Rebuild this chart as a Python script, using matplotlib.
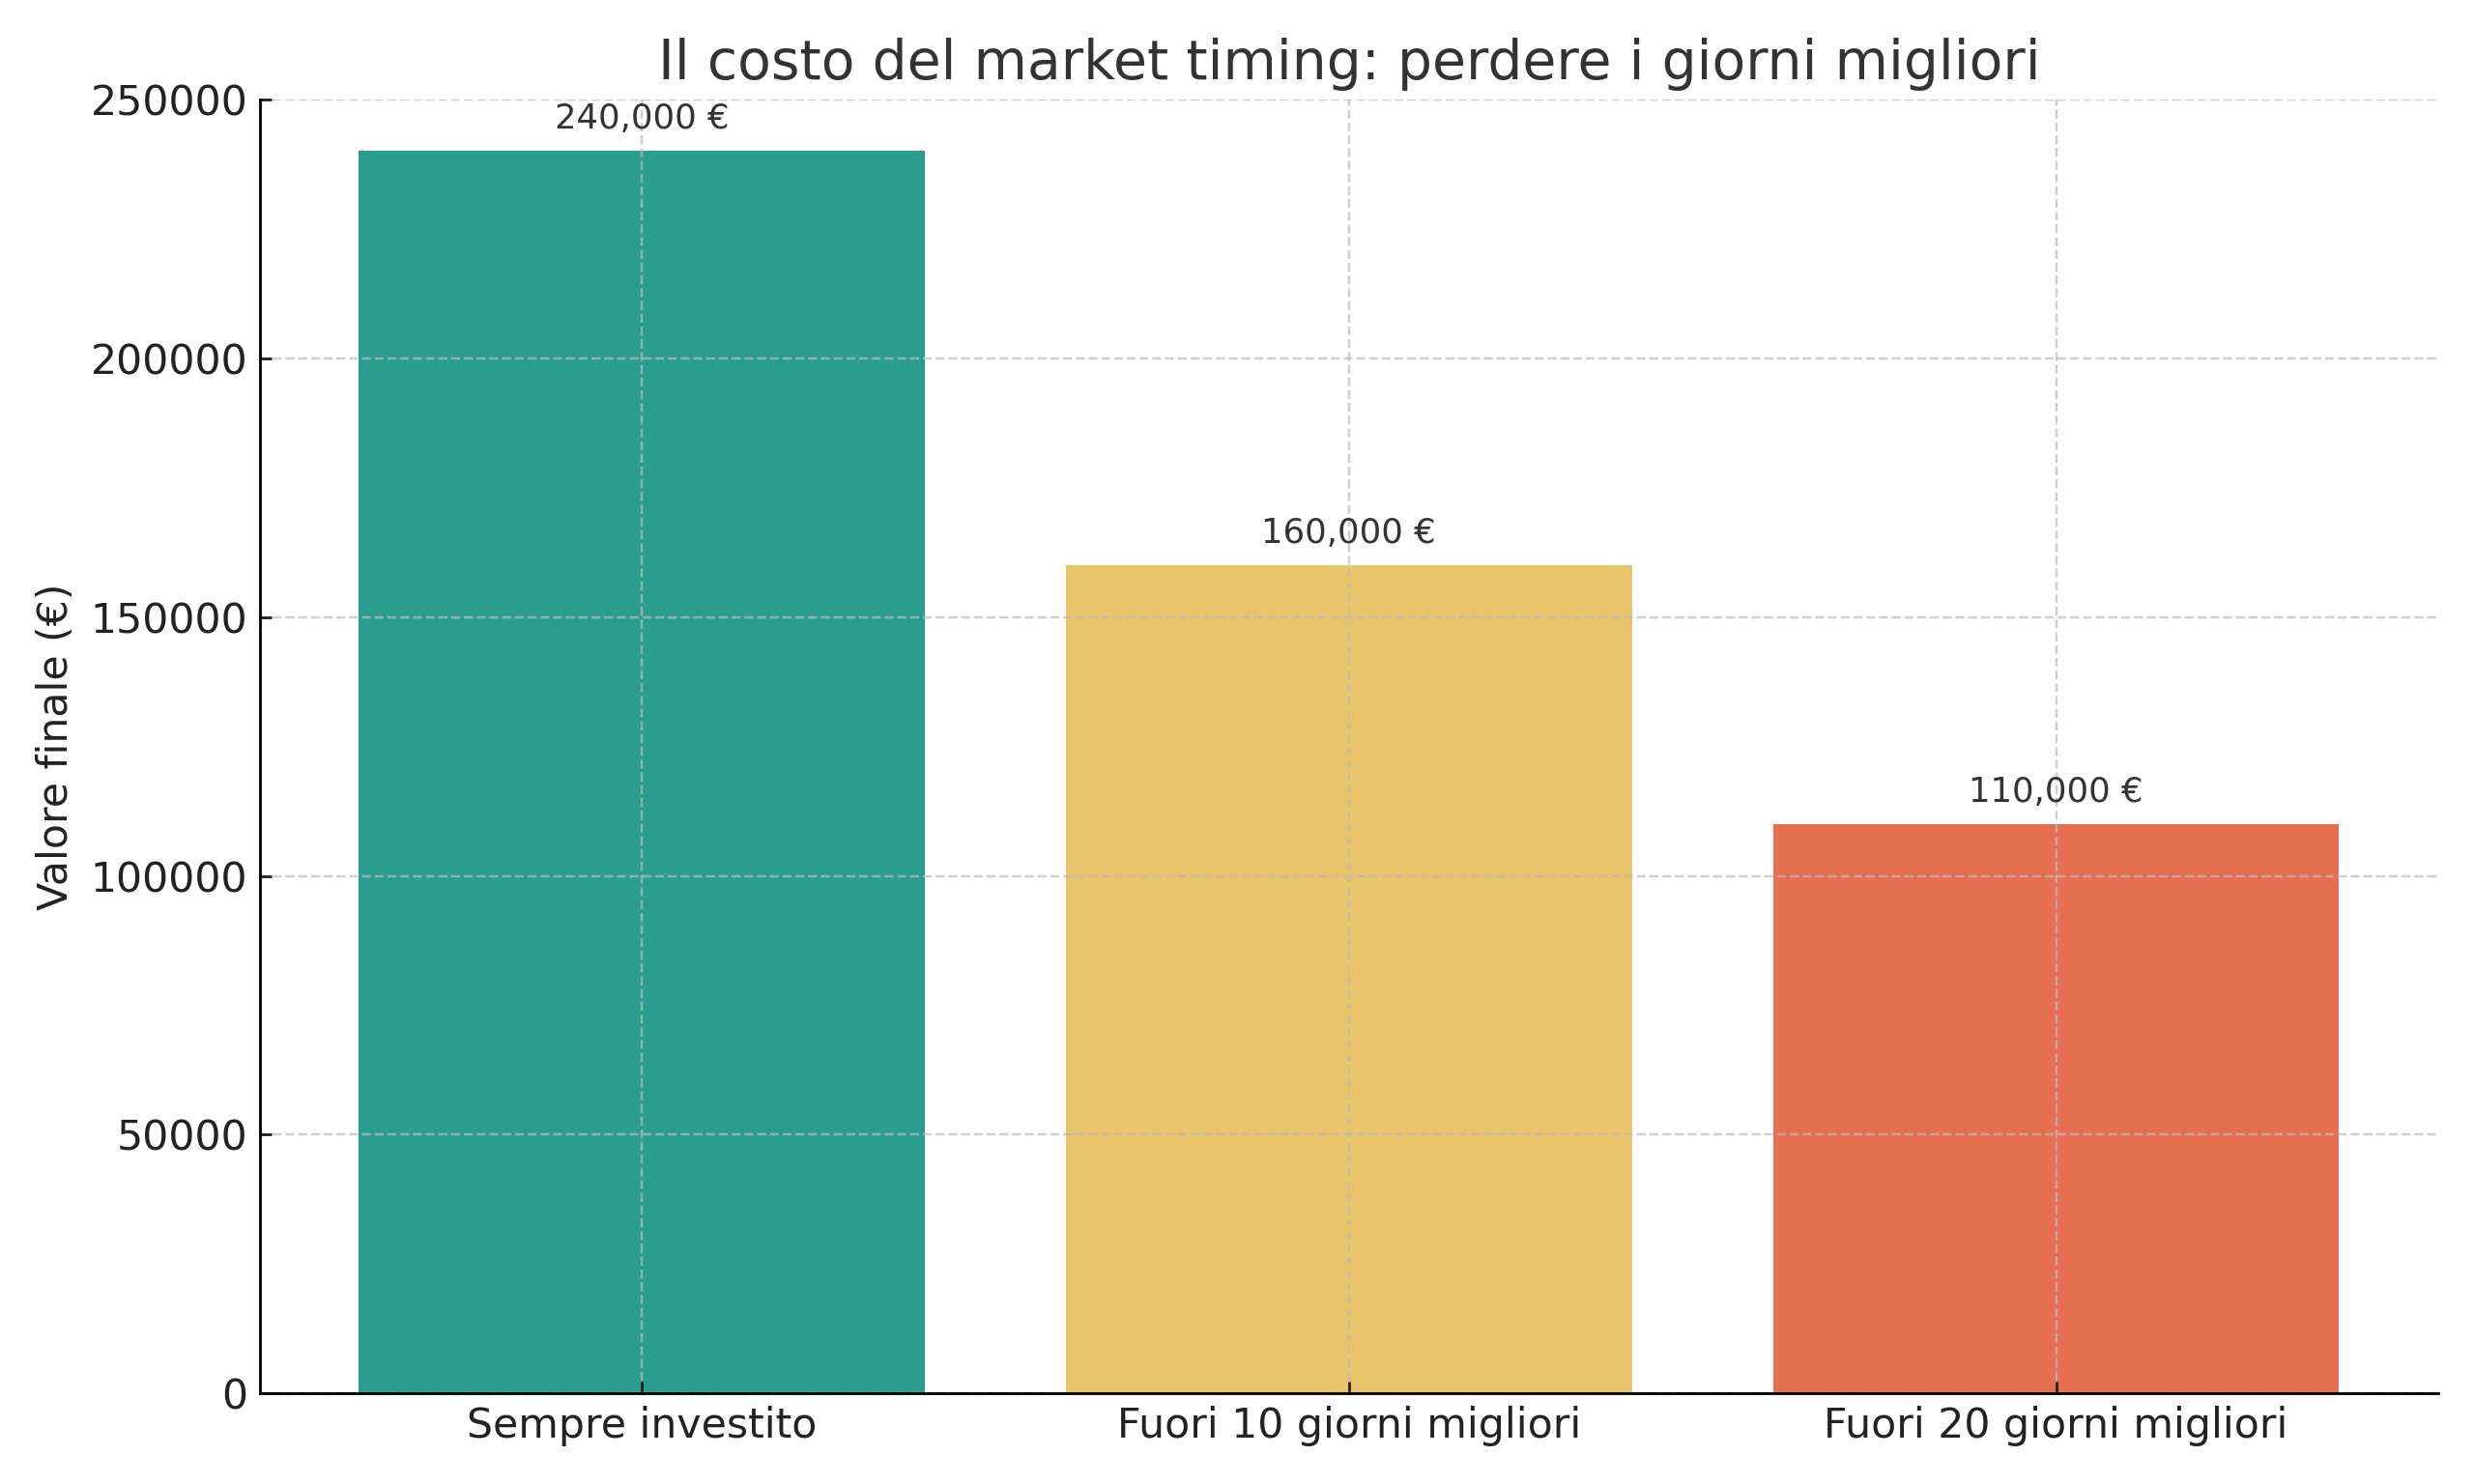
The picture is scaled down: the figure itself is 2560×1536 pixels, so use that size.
import matplotlib
matplotlib.use("Agg")
import matplotlib.pyplot as plt

# dati
scenari = ["Sempre investito", "Fuori 10 giorni migliori", "Fuori 20 giorni migliori"]
valori = [240000, 160000, 110000]
colori = ["#2a9d8f", "#e9c46a", "#e76f51"]

fig, ax = plt.subplots(figsize=(10, 6), dpi=256)
bars = ax.bar(scenari, valori, color=colori, width=0.8)

for b, v in zip(bars, valori):
    ax.text(b.get_x() + b.get_width() / 2, v + 3000, f"{v:,.0f} €",
            ha="center", va="bottom", fontsize=10, color="#333333")

ax.set_title("Il costo del market timing: perdere i giorni migliori", fontsize=16, color="#333333")
ax.set_ylabel("Valore finale (€)", fontsize=12, color="#222222")
ax.set_ylim(0, 250000)
ax.tick_params(labelsize=12, colors="#222222", direction="in")
ax.grid(True, linestyle="--", color="#bbbbbb", alpha=0.7, linewidth=0.7)
ax.spines["top"].set_visible(False)
ax.spines["right"].set_visible(False)

fig.subplots_adjust(left=0.105, right=0.9855, top=0.933, bottom=0.061)
fig.savefig("out.png")
